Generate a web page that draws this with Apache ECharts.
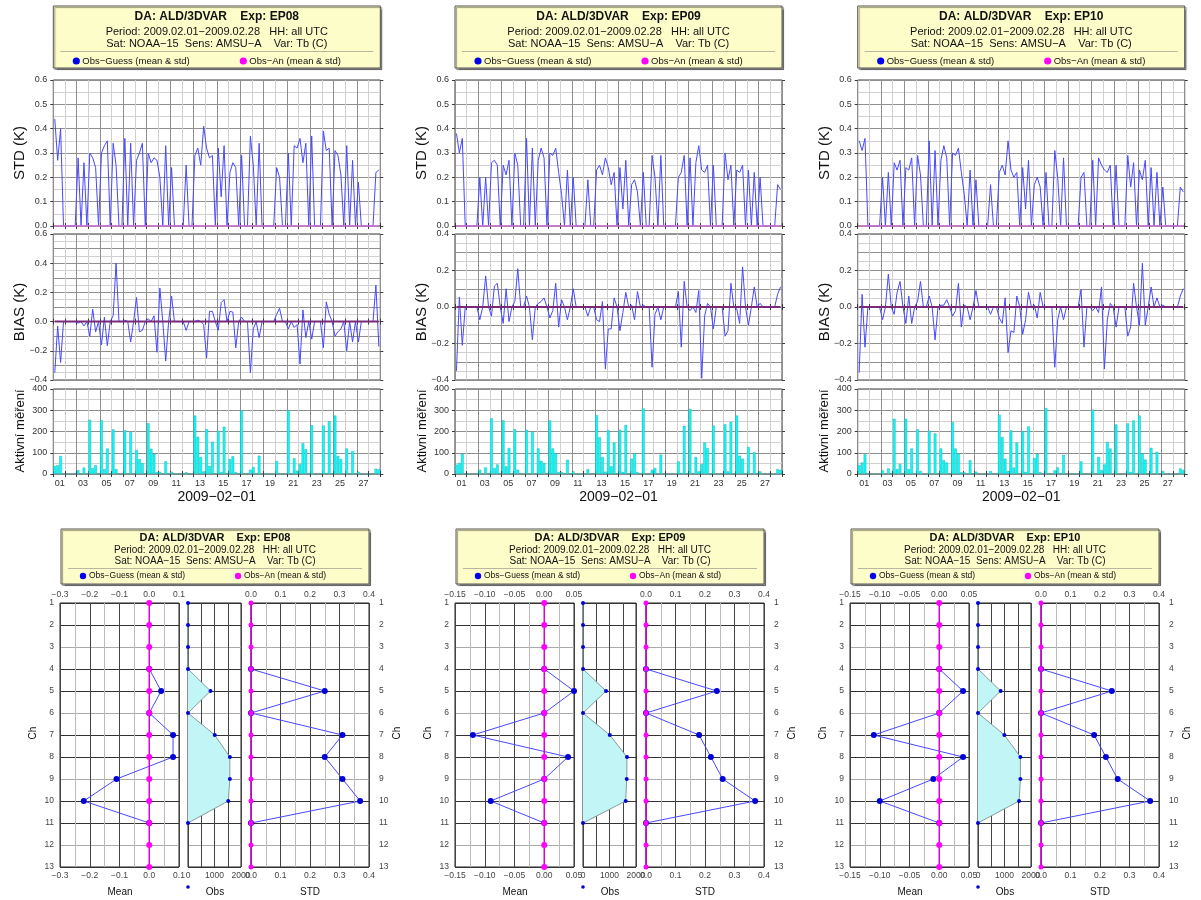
<!DOCTYPE html>
<html>
<head>
<meta charset="utf-8">
<title>ALD/3DVAR – NOAA-15 AMSU-A monitoring</title>
<script src="https://cdn.jsdelivr.net/npm/echarts/dist/echarts.min.js"></script>
<style>
  html, body { margin: 0; padding: 0; background: #ffffff; }
  #chart { width: 1201px; height: 900px; }
</style>
</head>
<body>
<div id="chart"></div>
<script>
// ---------------- time axis: 28 days x 4 synoptic slots ----------------
const dayLabels = ['01','02','03','04','05','06','07','08','09','10','11','12','13','14',
                   '15','16','17','18','19','20','21','22','23','24','25','26','27','28'];
const synopticHours = ['00','06','12','18'];
const slotNames = [];
dayLabels.forEach(d => synopticHours.forEach(h => slotNames.push(d + ' ' + h + 'Z')));

// ---------------- time series, one group of 4 slots per day ----------------
// EP08
const stdEP08 = [
  [0.44,0.27,0.40,0],[0,0,0,0],[0.28,0,0.26,0],[0.30,0.28,0.24,0],[0.30,0.33,0.35,0],
  [0.34,0.25,0,0],[0.36,0,0.34,0],[0.27,0.30,0.34,0],[0.30,0.26,0.28,0.27],[0.20,0,0.33,0],
  [0.24,0,0,0],[0,0.25,0,0],[0.29,0.32,0.25,0.41],[0.32,0.28,0.29,0],[0.32,0.12,0.33,0],
  [0.22,0.26,0.24,0],[0.29,0,0,0.37],[0.25,0,0.34,0],[0,0,0,0],[0.24,0.20,0,0],
  [0.30,0,0.33,0.32],[0.36,0.26,0.34,0],[0.37,0,0,0],[0.39,0.31,0.32,0],[0.31,0.29,0.21,0],
  [0.33,0,0.27,0],[0.18,0,0,0],[0,0,0.22,0.23]
].flat();
const biasEP08 = [
  [-0.35,-0.03,-0.28,0],[0,0,0,0],[-0.01,0,-0.03,0],[-0.10,0.085,-0.07,0],[-0.16,0.03,-0.165,0],
  [0.04,0.40,0,0],[0.01,0,-0.14,0],[0.165,-0.07,-0.06,0],[0.02,0.0,0.04,-0.21],[0.23,0,-0.27,0],
  [0.175,0,0,0],[0,-0.06,0,0],[0.0,0.01,0.0,-0.02],[-0.25,0.07,0.07,0],[-0.06,0.13,0.15,0],
  [0.07,0.065,-0.18,0],[0.03,0,0,-0.35],[-0.05,0,-0.11,0],[0,0,0,0],[0.05,0.09,0,0],
  [-0.05,0,-0.04,-0.02],[-0.29,0.08,-0.11,0],[-0.12,0,0,0],[-0.18,0.135,0.05,0],[-0.10,-0.07,-0.05,0],
  [-0.20,0,-0.14,0],[-0.14,0,0,0],[0,0,0.25,-0.17]
].flat();
const countEP08 = [
  [38,42,85,0],[0,0,0,0],[18,0,30,0],[255,28,42,0],[253,23,120,0],
  [210,23,0,0],[206,0,198,0],[113,70,52,0],[239,119,95,9],[10,0,60,0],
  [10,0,0,0],[0,8,0,0],[275,175,80,12],[211,38,152,0],[203,9,222,0],
  [70,84,9,0],[300,0,0,20],[33,0,86,0],[0,0,0,0],[61,3,0,0],
  [300,0,74,15],[47,145,117,0],[230,0,0,0],[228,5,248,0],[275,85,70,0],
  [120,0,108,0],[10,0,0,0],[0,0,25,22]
].flat();

// EP09
const stdEP09 = [
  [0.38,0.30,0.36,0],[0,0,0,0],[0.20,0,0.20,0],[0.26,0.27,0.25,0],[0.25,0.21,0.27,0],
  [0.30,0.25,0,0],[0.36,0,0.32,0],[0.27,0.32,0.28,0],[0.30,0.29,0.32,0.22],[0.13,0,0.23,0],
  [0.20,0,0,0],[0,0.19,0,0],[0.23,0.25,0.21,0.28],[0.24,0.17,0.22,0],[0.24,0.07,0.27,0],
  [0.17,0.19,0.14,0],[0.22,0,0,0.29],[0.20,0,0.29,0],[0,0,0,0],[0.20,0.22,0.29,0],
  [0.28,0,0.26,0.33],[0.23,0.22,0.25,0],[0.25,0,0,0],[0.30,0.19,0.25,0],[0.23,0.22,0.25,0],
  [0.23,0,0.22,0],[0.20,0,0,0],[0,0,0.17,0.15]
].flat();
const biasEP09 = [
  [-0.35,0.055,-0.21,0],[0,0,0,0],[-0.07,0,0.17,0],[-0.05,0.115,0.13,0],[-0.09,0.10,-0.08,0],
  [0.03,0.21,0,0],[0.06,0,-0.18,0],[0.02,0.03,0.05,0],[-0.06,-0.02,0.13,-0.11],[0.04,0,-0.07,0],
  [0.10,0,0,0],[0,-0.05,0,0],[-0.07,-0.08,0.03,-0.34],[-0.12,-0.12,0.05,0],[-0.13,-0.03,0.08,0],
  [0.01,-0.07,0.085,0],[0.01,0,0,-0.33],[-0.04,0,-0.07,0],[0,0,0,0],[0.085,-0.22,0.14,0],
  [-0.02,0,-0.03,0.09],[-0.39,-0.05,0.02,0],[-0.12,0,0,0],[-0.16,-0.13,0.13,0],[-0.01,-0.09,0.22,0],
  [-0.10,0,0.11,0],[0.02,0,0,0],[0,0,0.07,0.11]
].flat();
const countEP09 = [
  [44,52,95,0],[0,0,0,0],[20,0,31,0],[262,28,45,0],[253,36,122,0],
  [211,20,0,0],[208,0,198,0],[120,62,52,0],[252,120,98,9],[9,0,67,0],
  [12,0,0,0],[0,23,0,0],[277,173,80,11],[206,36,148,0],[208,10,231,0],
  [72,98,9,0],[308,0,0,20],[28,0,91,0],[0,0,0,0],[59,5,227,0],
  [306,0,80,12],[47,148,122,0],[228,0,0,0],[234,12,245,0],[275,86,72,0],
  [127,0,103,0],[12,0,0,0],[0,0,23,20]
].flat();

// EP10
const stdEP10 = [
  [0.35,0.31,0.36,0],[0,0,0,0],[0.20,0,0.22,0],[0.26,0.23,0.27,0],[0.24,0.23,0.28,0],
  [0.29,0.21,0,0],[0.35,0,0.31,0],[0.27,0.33,0.28,0],[0.30,0.29,0.32,0.22],[0.13,0,0.23,0],
  [0.19,0,0,0],[0,0.17,0,0],[0.22,0.25,0.21,0.35],[0.23,0.20,0.22,0],[0.24,0.07,0.27,0],
  [0.17,0.20,0.16,0],[0.22,0,0,0.31],[0.20,0,0.28,0],[0,0,0,0],[0.20,0.22,0,0],
  [0.27,0,0.28,0.25],[0.23,0.22,0.25,0],[0.25,0,0,0],[0.29,0.16,0.26,0],[0.23,0.19,0.27,0],
  [0.24,0,0.22,0],[0.16,0,0,0],[0,0,0.16,0.14]
].flat();
const biasEP10 = [
  [-0.36,0.07,-0.22,0],[0,0,0,0],[-0.07,0,0.18,0],[-0.04,0.08,0.14,0],[-0.09,0.06,-0.09,0],
  [0.03,0.14,0,0],[0.06,0,-0.18,0],[0.01,0.01,0.04,0],[-0.05,-0.02,0.13,-0.11],[0.01,0,-0.07,0],
  [0.09,0,0,0],[0,-0.04,0,0],[-0.06,-0.09,0.05,-0.25],[-0.13,-0.14,0.06,0],[-0.15,-0.07,0.08,0],
  [0.01,-0.06,0.08,0],[0.0,0,0,-0.33],[-0.07,0,-0.07,0],[0,0,0,0],[0.095,-0.22,0,0],
  [-0.02,0,-0.03,0.11],[-0.34,-0.07,0.02,0],[-0.11,0,0,0],[-0.16,-0.11,0.13,0],[-0.10,0.24,-0.10,0],
  [0.11,0,0.05,0],[0.01,0,0,0],[0,0,0.06,0.10]
].flat();
const countEP10 = [
  [42,54,93,0],[0,0,0,0],[17,0,26,0],[260,23,47,0],[260,23,120,0],
  [210,14,0,0],[204,0,191,0],[120,65,54,0],[244,120,96,8],[8,0,65,0],
  [11,0,0,0],[0,14,0,0],[279,174,72,14],[205,30,148,0],[201,10,224,0],
  [75,95,8,0],[310,0,0,17],[31,0,90,0],[0,0,0,0],[59,3,0,0],
  [303,0,81,19],[45,151,120,0],[233,0,0,0],[238,10,252,0],[275,96,68,0],
  [123,0,104,0],[14,0,0,0],[0,0,26,19]
].flat();

// Obs-An statistics are zero in every slot (same for STD and BIAS)
const obsAnSeries = [
  [0,0,0,0],[0,0,0,0],[0,0,0,0],[0,0,0,0],[0,0,0,0],[0,0,0,0],[0,0,0,0],
  [0,0,0,0],[0,0,0,0],[0,0,0,0],[0,0,0,0],[0,0,0,0],[0,0,0,0],[0,0,0,0],
  [0,0,0,0],[0,0,0,0],[0,0,0,0],[0,0,0,0],[0,0,0,0],[0,0,0,0],[0,0,0,0],
  [0,0,0,0],[0,0,0,0],[0,0,0,0],[0,0,0,0],[0,0,0,0],[0,0,0,0],[0,0,0,0]
].flat();

// ---------------- channel profiles ----------------
const channels = ['1','2','3','4','5','6','7','8','9','10','11','12','13'];
const meanGuessEP08 = [null,null,null,0,0.04,0,0.08,0.08,-0.11,-0.22,0,null,null];
const obsNumEP08    = [0,0,0,0,850,0,1010,1580,1580,1520,0,null,null];
const stdGuessEP08  = [null,null,null,0,0.25,0,0.31,0.25,0.31,0.37,0,null,null];
const meanGuessEP09 = [null,null,null,0,0.05,0,-0.12,0.04,0,-0.09,0,null,null];
const obsNumEP09    = [0,0,0,0,870,0,1010,1660,1650,1610,0,null,null];
const stdGuessEP09  = [null,null,null,0,0.24,0,0.18,0.22,0.26,0.37,0,null,null];
const meanGuessEP10 = [null,null,null,0,0.04,0,-0.11,0.04,-0.01,-0.10,0,null,null];
const obsNumEP10    = [0,0,0,0,855,0,995,1600,1600,1550,0,null,null];
const stdGuessEP10  = [null,null,null,0,0.24,0,0.18,0.22,0.26,0.37,0,null,null];
const meanAnProfile = [0,0,0,0,0,0,0,0,0,0,0,0,0];
const stdAnProfile  = [0,0,0,0,0,0,0,0,0,0,0,0,0];

// ---------------- layout / style ----------------
const FONT = '"Liberation Sans", Arial, Helvetica, sans-serif';
const AXC = '#3a3a3a';
const G_DARK = '#8f8f8f', G_LIGHT = '#d0d0d0';
const BLUE_LINE = '#4848ff', BLUE_DOT = '#0000d8', MAGENTA = '#ff00ff';
const TS_LEFT = [53.3, 455, 857.7], TS_W = 327;
const PR_LEFT = [60, 455, 850];

const panelsTS = [
  { exp: 'EP08', std: stdEP08, bias: biasEP08, count: countEP08, biasMin: -0.4, biasMax: 0.6 },
  { exp: 'EP09', std: stdEP09, bias: biasEP09, count: countEP09, biasMin: -0.4, biasMax: 0.4 },
  { exp: 'EP10', std: stdEP10, bias: biasEP10, count: countEP10, biasMin: -0.4, biasMax: 0.4 }
];
const panelsPR = [
  { exp: 'EP08', mean: meanGuessEP08, obs: obsNumEP08, std: stdGuessEP08, mMin: -0.3, mMax: 0.1, mFine: 0.05, mStep: 0.1, mDec: 1 },
  { exp: 'EP09', mean: meanGuessEP09, obs: obsNumEP09, std: stdGuessEP09, mMin: -0.15, mMax: 0.05, mFine: 0.025, mStep: 0.05, mDec: 2 },
  { exp: 'EP10', mean: meanGuessEP10, obs: obsNumEP10, std: stdGuessEP10, mMin: -0.15, mMax: 0.05, mFine: 0.025, mStep: 0.05, mDec: 2 }
];

const grids = [], xAxes = [], yAxes = [], series = [], graphics = [];
const isMult = (v, s) => Math.abs(v / s - Math.round(v / s)) < 1e-6;
const fmtNum = (v, d) => (Math.abs(v) < 1e-9 ? 0 : v).toFixed(d).replace('-', '\u2212');
const dayTick = i => i % 4 === 0;
const dayLabel = i => i % 8 === 0;

function addTsPanel(x0, top, height, y, withDates) {
  const gi = grids.length;
  grids.push({ left: x0, top: top, width: TS_W, height: height, show: true,
               borderColor: AXC, borderWidth: 1, backgroundColor: 'transparent' });
  const xi = xAxes.length;
  xAxes.push({
    type: 'category', gridIndex: gi, data: slotNames, boundaryGap: true, position: 'bottom',
    axisLine: { show: false },
    axisTick: { show: true, interval: dayTick, length: 3, lineStyle: { color: AXC } },
    axisLabel: { show: withDates, interval: dayLabel, formatter: v => v.slice(0, 2), align: 'left',
                 margin: 5, fontSize: 9, color: '#333', fontFamily: FONT },
    splitLine: { show: true, interval: dayTick, lineStyle: { color: [G_DARK, G_LIGHT], width: 1 } }
  });
  xAxes.push({
    type: 'category', gridIndex: gi, data: slotNames, boundaryGap: true, position: 'top',
    axisLine: { show: false },
    axisTick: { show: true, interval: dayTick, length: 3, lineStyle: { color: AXC } },
    axisLabel: { show: false }, splitLine: { show: false }
  });
  const yi = yAxes.length;
  yAxes.push({
    type: 'value', gridIndex: gi, min: y.min, max: y.max, interval: y.fine, position: 'left',
    axisLine: { show: false }, axisTick: { show: false },
    axisLabel: { formatter: v => isMult(v, y.step) ? fmtNum(v, y.dec) : '', fontSize: 9,
                 color: '#333', margin: 6, fontFamily: FONT },
    splitLine: { show: true, lineStyle: { color: [G_DARK, G_LIGHT], width: 1 } }
  });
  yAxes.push({
    type: 'value', gridIndex: gi, min: y.min, max: y.max, interval: y.step, position: 'left',
    axisLine: { show: false }, axisTick: { show: true, length: 3, lineStyle: { color: AXC } },
    axisLabel: { show: false }, splitLine: { show: false }
  });
  yAxes.push({
    type: 'value', gridIndex: gi, min: y.min, max: y.max, interval: y.step, position: 'right',
    axisLine: { show: false }, axisTick: { show: true, length: 3, lineStyle: { color: AXC } },
    axisLabel: { show: false }, splitLine: { show: false }
  });
  return { xi, yi };
}

function vText(x, y, text, size) {
  graphics.push({ type: 'text', x: x, y: y, rotation: Math.PI / 2, z: 10,
    style: { text: text, fill: '#111', font: size + 'px ' + FONT,
             textAlign: 'center', textVerticalAlign: 'middle', align: 'center', verticalAlign: 'middle' } });
}
function hText(x, y, text, font, align) {
  graphics.push({ type: 'text', x: x, y: y, z: 10,
    style: { text: text, fill: '#111', font: font, textAlign: align || 'center',
             textVerticalAlign: 'middle', align: align || 'center', verticalAlign: 'middle' } });
}

function addHeader(x, y, w, h, exp, f) {
  graphics.push({ type: 'rect', z: 5, shape: { x: x, y: y, width: w, height: h },
    style: { fill: '#fdfdc9', stroke: '#555', lineWidth: 1,
             shadowColor: 'rgba(0,0,0,0.4)', shadowOffsetX: 1.5, shadowOffsetY: 1.5, shadowBlur: 1 } });
  const cx = x + w / 2;
  hText(cx, y + f.t1, 'DA: ALD/3DVAR    Exp: ' + exp, 'bold ' + f.s1 + 'px ' + FONT);
  hText(cx, y + f.t2, 'Period: 2009.02.01\u22122009.02.28   HH: all UTC', f.s2 + 'px ' + FONT);
  hText(cx, y + f.t3, 'Sat: NOAA\u221215  Sens: AMSU\u2212A    Var: Tb (C)', f.s2 + 'px ' + FONT);
  graphics.push({ type: 'line', z: 6, shape: { x1: x + 7, y1: y + f.sep, x2: x + w - 7, y2: y + f.sep },
    style: { stroke: '#b8b8a0', lineWidth: 1 } });
  graphics.push({ type: 'circle', z: 6, shape: { cx: x + f.d1, cy: y + f.lg, r: f.r }, style: { fill: '#0000ee' } });
  hText(x + f.d1 + 6, y + f.lg, 'Obs\u2212Guess (mean & std)', f.s3 + 'px ' + FONT, 'left');
  graphics.push({ type: 'circle', z: 6, shape: { cx: x + f.d2, cy: y + f.lg, r: f.r }, style: { fill: MAGENTA } });
  hText(x + f.d2 + 6, y + f.lg, 'Obs\u2212An (mean & std)', f.s3 + 'px ' + FONT, 'left');
}

// ---------------- upper block: time series ----------------
panelsTS.forEach((p, c) => {
  const x0 = TS_LEFT[c];
  addHeader(x0, 6, TS_W, 62, p.exp,
    { t1: 10.5, t2: 26, t3: 37.5, sep: 45.5, lg: 55, d1: 23, d2: 190, r: 3.6, s1: 12, s2: 11, s3: 9.5 });

  // STD
  let a = addTsPanel(x0, 80, 146, { min: 0, max: 0.6, fine: 0.05, step: 0.1, dec: 1 }, false);
  series.push({ type: 'line', xAxisIndex: a.xi, yAxisIndex: a.yi, data: p.std, symbol: 'none',
                lineStyle: { color: BLUE_LINE, width: 1 }, z: 3 });
  series.push({ type: 'line', xAxisIndex: a.xi, yAxisIndex: a.yi, data: obsAnSeries, symbol: 'none',
                lineStyle: { color: '#e070e0', width: 1.6 }, z: 4 });
  vText(x0 - 33, 153, 'STD (K)', 15);

  // BIAS
  a = addTsPanel(x0, 234, 146, { min: p.biasMin, max: p.biasMax, fine: 0.05, step: 0.2, dec: 1 }, false);
  series.push({ type: 'line', xAxisIndex: a.xi, yAxisIndex: a.yi, data: p.bias, symbol: 'none',
                lineStyle: { color: BLUE_LINE, width: 1 }, z: 3 });
  series.push({ type: 'line', xAxisIndex: a.xi, yAxisIndex: a.yi, data: obsAnSeries, symbol: 'none',
                lineStyle: { color: '#7a2a7a', width: 2 }, z: 4 });
  vText(x0 - 33, 312, 'BIAS (K)', 15);

  // active observations
  a = addTsPanel(x0, 389, 85, { min: 0, max: 400, fine: 50, step: 100, dec: 0 }, true);
  series.push({ type: 'bar', xAxisIndex: a.xi, yAxisIndex: a.yi, data: p.count, barCategoryGap: '8%',
                itemStyle: { color: '#00ffff', borderColor: '#3a9a9a', borderWidth: 0.4 }, z: 3 });
  vText(x0 - 33, 431, 'Aktivn\u00ed m\u011b\u0159en\u00ed', 13);
  hText(x0 + TS_W / 2, 497, '2009\u221202\u221201', '14px ' + FONT);
});

// ---------------- lower block: channel profiles ----------------
function addPrGrid(left, width) {
  const gi = grids.length;
  grids.push({ left: left, top: 603, width: width, height: 264, show: true,
               borderColor: '#222', borderWidth: 1, backgroundColor: 'transparent' });
  return gi;
}
function chAxis(gi, position, showLabels) {
  yAxes.push({
    type: 'category', gridIndex: gi, data: channels, inverse: true, boundaryGap: false, position: position,
    axisLine: { show: false }, axisTick: { show: false },
    axisLabel: { show: showLabels, fontSize: 8.5, color: '#444', margin: position === 'right' ? 10 : 6, fontFamily: FONT },
    splitLine: { show: true, lineStyle: { color: ['#333', '#333', '#aaa'], width: 1 } }
  });
  return yAxes.length - 1;
}
function valAxis(gi, position, cfg, showLabels, split) {
  xAxes.push({
    type: 'value', gridIndex: gi, min: cfg.min, max: cfg.max, interval: cfg.fine, position: position,
    axisLine: { show: false }, axisTick: { show: false },
    axisLabel: { show: showLabels, formatter: v => isMult(v, cfg.step) ? fmtNum(v, cfg.dec) : '',
                 fontSize: 8.5, color: '#444', margin: 4, fontFamily: FONT },
    splitLine: { show: split, lineStyle: { color: cfg.colors, width: 1 } }
  });
  return xAxes.length - 1;
}
const dotStyle = { color: BLUE_DOT };

panelsPR.forEach((p, c) => {
  const x = PR_LEFT[c];
  addHeader(x + 1, 529, 308, 55, p.exp,
    { t1: 8.5, t2: 21.5, t3: 32.5, sep: 39.5, lg: 47, d1: 22, d2: 177, r: 3.2, s1: 11, s2: 10, s3: 8.5 });

  // mean
  let gi = addPrGrid(x, 119);
  const mCfg = { min: p.mMin, max: p.mMax, fine: p.mFine, step: p.mStep, dec: p.mDec, colors: ['#444', '#bbb'] };
  let xi = valAxis(gi, 'bottom', mCfg, true, true);
  valAxis(gi, 'top', mCfg, true, false);
  let yi = chAxis(gi, 'left', true);
  series.push({ type: 'line', xAxisIndex: xi, yAxisIndex: yi, data: p.mean, symbol: 'circle', symbolSize: 6,
                itemStyle: dotStyle, lineStyle: { color: BLUE_LINE, width: 1 }, clip: false, z: 3 });
  series.push({ type: 'line', xAxisIndex: xi, yAxisIndex: yi, data: meanAnProfile, symbol: 'circle', symbolSize: 6,
                itemStyle: { color: MAGENTA }, lineStyle: { color: '#dd00dd', width: 1.5 }, clip: false, z: 4 });

  // number of observations
  gi = addPrGrid(x + 128, 53);
  const oCfg = { min: 0, max: 2000, fine: 500, step: 1000, dec: 0, colors: ['#444'] };
  xi = valAxis(gi, 'bottom', oCfg, true, true);
  valAxis(gi, 'top', oCfg, false, false);
  yi = chAxis(gi, 'left', false);
  series.push({ type: 'line', xAxisIndex: xi, yAxisIndex: yi, data: p.obs, symbol: 'none',
                lineStyle: { color: '#849c9c', width: 1 }, areaStyle: { color: '#c2f6f6', opacity: 1 }, z: 2 });
  series.push({ type: 'line', xAxisIndex: xi, yAxisIndex: yi, data: p.obs, symbol: 'circle', symbolSize: 4,
                itemStyle: dotStyle, lineStyle: { width: 0, opacity: 0 }, clip: false, z: 4 });

  // std
  gi = addPrGrid(x + 191, 118);
  const sCfg = { min: 0, max: 0.4, fine: 0.05, step: 0.1, dec: 1, colors: ['#444', '#bbb'] };
  xi = valAxis(gi, 'bottom', sCfg, true, true);
  valAxis(gi, 'top', sCfg, true, false);
  yi = chAxis(gi, 'right', true);
  series.push({ type: 'line', xAxisIndex: xi, yAxisIndex: yi, data: p.std, symbol: 'circle', symbolSize: 6,
                itemStyle: dotStyle, lineStyle: { color: BLUE_LINE, width: 1 }, clip: false, z: 3 });
  series.push({ type: 'line', xAxisIndex: xi, yAxisIndex: yi, data: stdAnProfile, symbol: 'circle', symbolSize: 5,
                itemStyle: { color: MAGENTA }, lineStyle: { color: '#dd00dd', width: 1.5 }, clip: false, z: 4 });

  // axis titles
  vText(x - 27, 733, 'Ch', 10);
  vText(x + 337, 733, 'Ch', 10);
  hText(x + 60, 892, 'Mean', '10px ' + FONT);
  hText(x + 155, 892, 'Obs', '10px ' + FONT);
  graphics.push({ type: 'circle', z: 6, shape: { cx: x + 128, cy: 887, r: 1.8 }, style: { fill: BLUE_DOT } });
  hText(x + 250, 892, 'STD', '10px ' + FONT);
});

const chart = echarts.init(document.getElementById('chart'), null, { renderer: 'canvas' });
chart.setOption({
  animation: false,
  backgroundColor: '#ffffff',
  textStyle: { fontFamily: FONT },
  grid: grids,
  xAxis: xAxes,
  yAxis: yAxes,
  series: series,
  graphic: { elements: graphics }
});
</script>
</body>
</html>
